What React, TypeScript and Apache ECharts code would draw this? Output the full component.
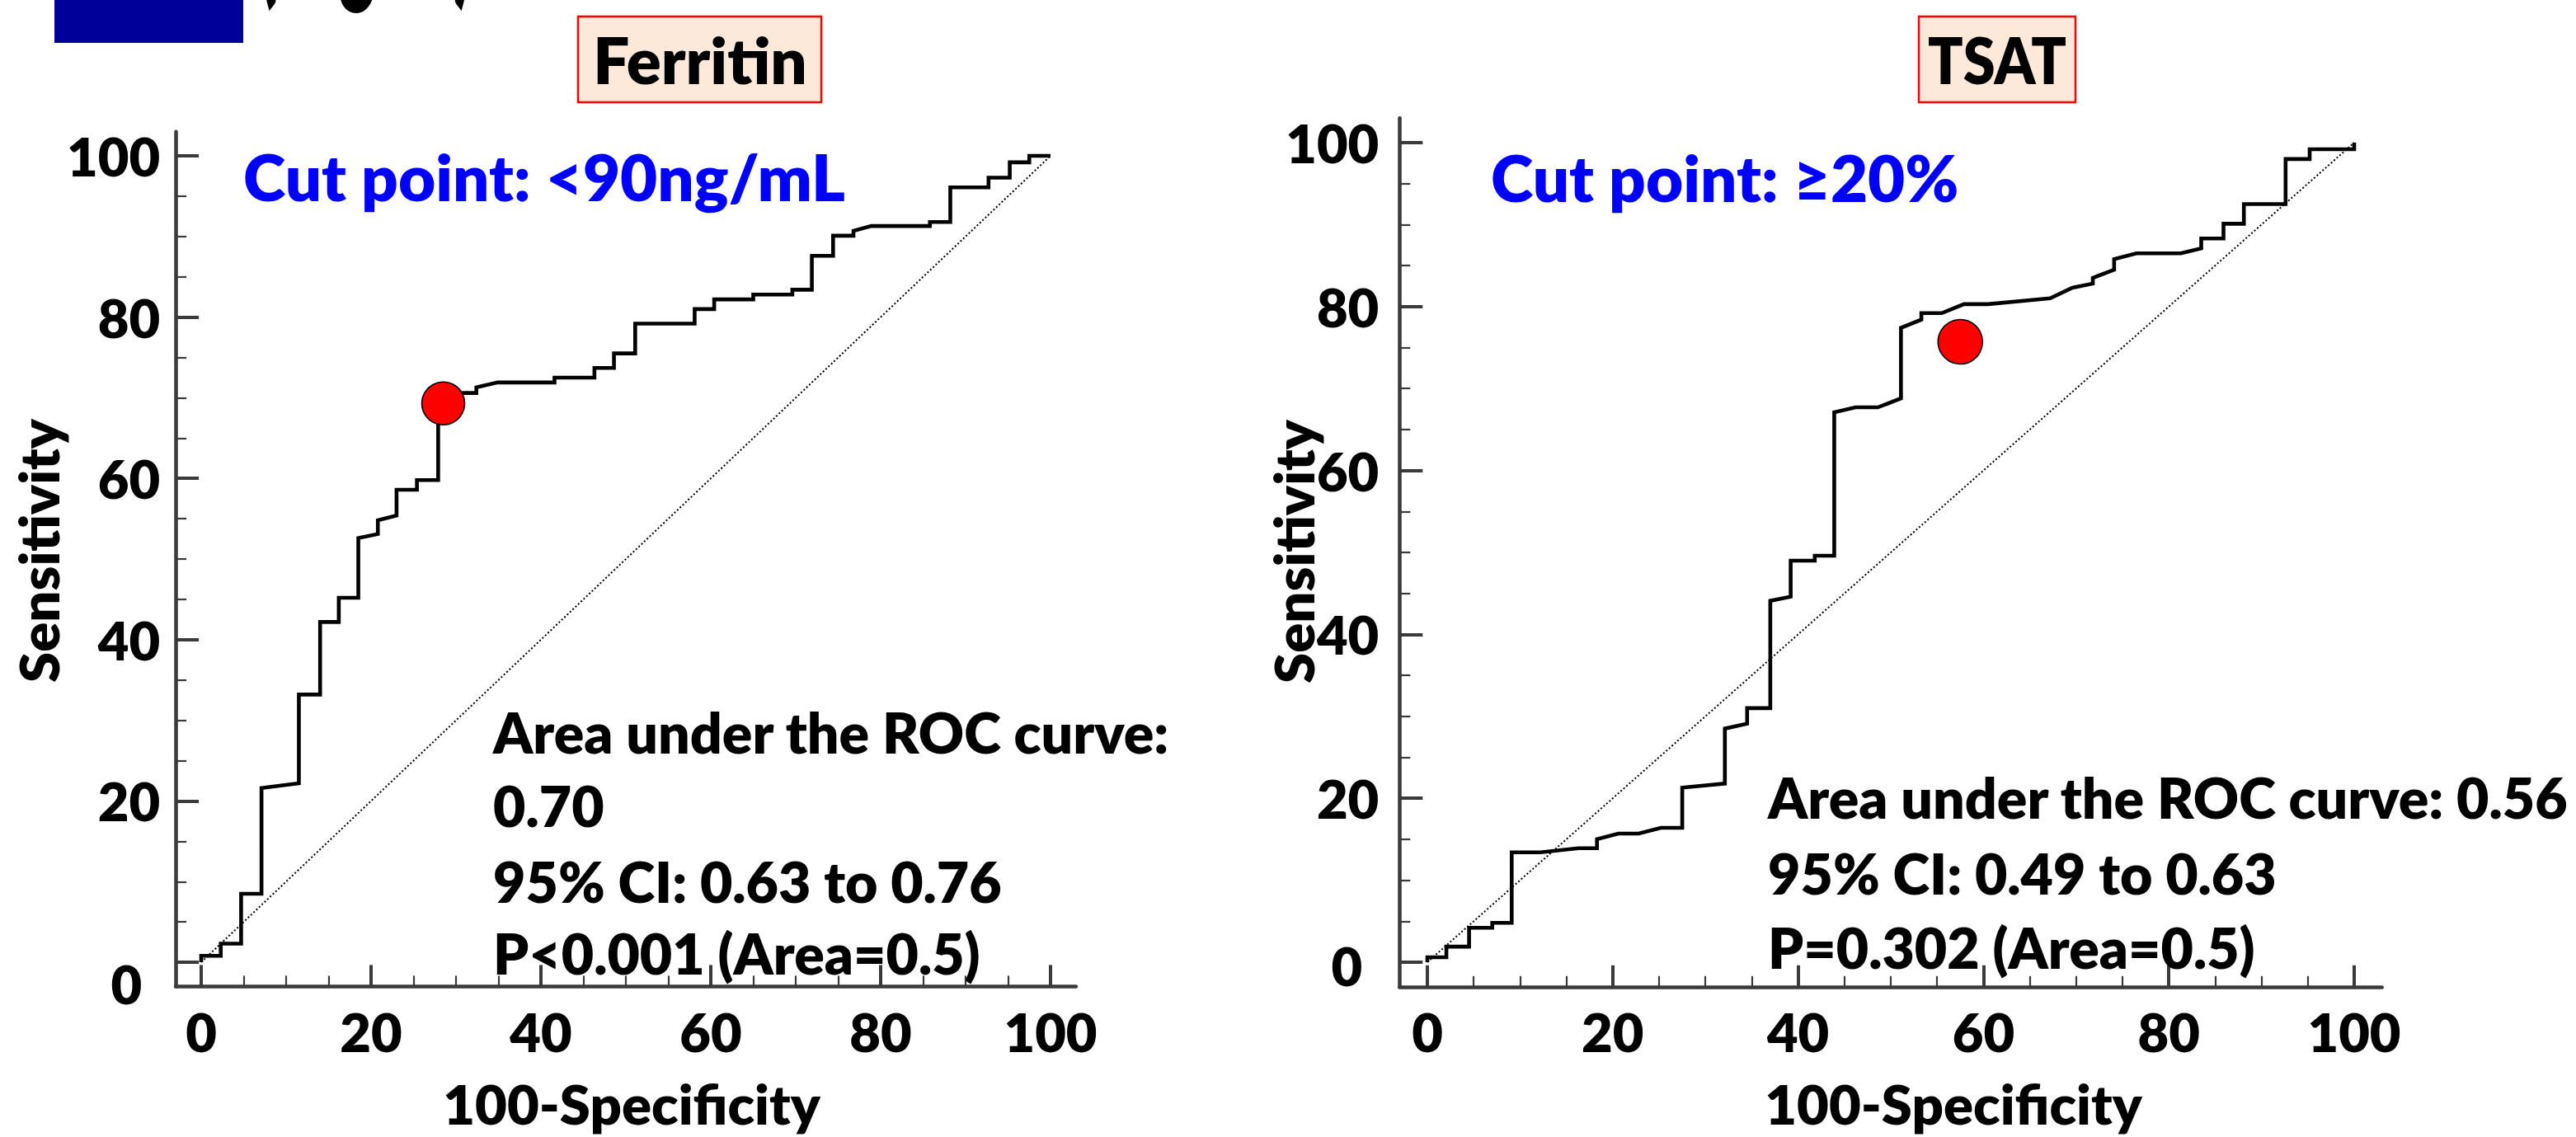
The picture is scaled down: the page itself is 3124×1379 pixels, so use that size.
import React, { useEffect, useRef } from "react";
import * as echarts from "echarts";

// ---------- data ----------
const ferritinCurve: number[][] = [
  [0, 0], [0, 0.8], [2.3, 0.8], [2.3, 2.3], [4.7, 2.3], [4.7, 8.5], [7.1, 8.5], [7.1, 21.6],
  [11.5, 22.2], [11.5, 33.2], [14.0, 33.2], [14.0, 42.2], [16.2, 42.2], [16.2, 45.2],
  [18.5, 45.2], [18.5, 52.6], [20.8, 53.1], [20.8, 54.8], [23.0, 55.4], [23.0, 58.6],
  [25.4, 58.6], [25.4, 59.8], [27.9, 59.8], [27.9, 70.5], [31.1, 70.6], [32.4, 70.6],
  [32.4, 71.3], [34.9, 71.9], [41.6, 71.9], [41.6, 72.5], [46.3, 72.5], [46.3, 73.7],
  [48.6, 73.7], [48.6, 75.5], [51.1, 75.5], [51.1, 79.2], [58.1, 79.2], [58.1, 81.0],
  [60.4, 81.0], [60.4, 82.2], [65.0, 82.2], [65.0, 82.8], [69.6, 82.8], [69.6, 83.4],
  [71.9, 83.4], [71.9, 87.6], [74.4, 87.6], [74.4, 90.1], [76.8, 90.1], [76.8, 90.7],
  [78.9, 91.3], [85.8, 91.3], [85.8, 91.8], [88.2, 91.8], [88.2, 96.1], [92.7, 96.1],
  [92.7, 97.3], [95.2, 97.3], [95.2, 99.2], [97.5, 99.2], [97.5, 100], [100, 100],
];

const tsatCurve: number[][] = [
  [0, 0], [0, 0.6], [2.05, 0.6], [2.05, 1.9], [4.5, 1.9], [4.5, 4.2], [7.0, 4.2], [7.0, 4.8],
  [9.1, 4.8], [9.1, 13.4], [12.2, 13.4], [16.3, 13.9], [18.3, 13.9], [18.3, 15.0],
  [20.6, 15.7], [22.8, 15.7], [25.2, 16.4], [27.5, 16.4], [27.5, 21.3], [32.1, 21.8],
  [32.1, 28.5], [34.5, 29.1], [34.5, 31.0], [37.0, 31.0], [37.0, 44.1], [39.2, 44.6],
  [39.2, 49.0], [41.8, 49.0], [41.8, 49.6], [43.9, 49.6], [43.9, 67.1], [46.2, 67.7],
  [48.6, 67.7], [51.1, 68.8], [51.1, 77.4], [53.3, 78.4], [53.3, 79.2], [55.5, 79.2],
  [57.9, 80.3], [60.5, 80.3], [67.2, 81.0], [69.6, 82.3], [71.8, 82.8], [71.8, 83.5],
  [74.1, 84.5], [74.1, 85.8], [76.5, 86.5], [81.3, 86.5], [83.5, 87.1], [83.5, 88.3],
  [85.9, 88.3], [85.9, 90.1], [88.1, 90.1], [88.1, 92.5], [92.6, 92.5], [92.6, 98.0],
  [95.2, 98.0], [95.2, 99.2], [100, 99.2], [100, 100],
];

const chanceLine: number[][] = [[0, 0], [100, 100]];
const ferritinCutPoint: number[][] = [[28.5, 69.3]];
const tsatCutPoint: number[][] = [[57.5, 75.7]];

const majorTicks = [0, 20, 40, 60, 80, 100];
const minorTicks = [5, 10, 15, 25, 30, 35, 45, 50, 55, 65, 70, 75, 85, 90, 95];
const axisMin = -3;
const axisMax = 103;

const headerFragment = "(Fig. 2)";
const ferritinTitle = "Ferritin";
const tsatTitle = "TSAT";
const ferritinCut = "Cut point: <90ng/mL";
const tsatCut = "Cut point: \u226520%";
const ferritinStats = ["Area under the ROC curve:", "0.70", "95% CI: 0.63 to 0.76", "P<0.001 (Area=0.5)"];
const tsatStats = ["Area under the ROC curve: 0.56", "95% CI: 0.49 to 0.63", "P=0.302 (Area=0.5)"];
const xName = "100-Specificity";
const yName = "Sensitivity";

// ---------- styles ----------
const FONT = "Lato";
const WEIGHT = 800;
const AXIS_COLOR = "#3a3a3a";
const TICK_FONT = 65;
const NAME_FONT = 67;
const STAT_FONT = 68;

function mainX(gridIndex: number) {
  return {
    type: "value", gridIndex, min: axisMin, max: axisMax, position: "bottom",
    axisLine: { show: true, onZero: false, lineStyle: { color: AXIS_COLOR, width: 4.5 } },
    axisTick: { show: true, inside: true, length: 26, customValues: majorTicks, lineStyle: { color: AXIS_COLOR, width: 4 } },
    axisLabel: {
      show: true, customValues: majorTicks, margin: 22, color: "#000",
      fontFamily: FONT, fontWeight: WEIGHT, fontSize: TICK_FONT,
    },
    splitLine: { show: false },
  };
}
function minorX(gridIndex: number) {
  return {
    type: "value", gridIndex, min: axisMin, max: axisMax, position: "bottom",
    axisLine: { show: false, onZero: false },
    axisTick: { show: true, inside: true, length: 13, customValues: minorTicks, lineStyle: { color: AXIS_COLOR, width: 2.2 } },
    axisLabel: { show: false },
    splitLine: { show: false },
  };
}
function mainY(gridIndex: number, margin: number, zeroPad: number[]) {
  return {
    type: "value", gridIndex, min: axisMin, max: axisMax, position: "left",
    axisLine: { show: true, onZero: false, lineStyle: { color: AXIS_COLOR, width: 4.5 } },
    axisTick: { show: true, inside: true, length: 28, customValues: majorTicks, lineStyle: { color: AXIS_COLOR, width: 4 } },
    axisLabel: {
      show: true, customValues: majorTicks, margin, color: "#000",
      fontFamily: FONT, fontWeight: WEIGHT, fontSize: TICK_FONT,
      formatter: (v: number) => (v === 0 ? "{z|0}" : String(v)),
      rich: {
        z: { padding: zeroPad, color: "#000", fontFamily: FONT, fontWeight: WEIGHT, fontSize: TICK_FONT },
      },
    },
    splitLine: { show: false },
  };
}
function minorY(gridIndex: number) {
  return {
    type: "value", gridIndex, min: axisMin, max: axisMax, position: "left",
    axisLine: { show: false, onZero: false },
    axisTick: { show: true, inside: true, length: 13, customValues: minorTicks, lineStyle: { color: AXIS_COLOR, width: 2.2 } },
    axisLabel: { show: false },
    splitLine: { show: false },
  };
}

function curveSeries(data: number[][], axis: number) {
  return {
    type: "line", data, xAxisIndex: axis, yAxisIndex: axis, symbol: "none", z: 3,
    lineStyle: { color: "#000", width: 4.6, join: "miter" }, silent: true,
  };
}
function chanceSeries(axis: number) {
  return {
    type: "line", data: chanceLine, xAxisIndex: axis, yAxisIndex: axis, symbol: "none", z: 2,
    lineStyle: { color: "#000", width: 2, type: [2, 2.6] }, silent: true,
  };
}
function cutSeries(data: number[][], axis: number, size: number) {
  return {
    type: "scatter", data, xAxisIndex: axis, yAxisIndex: axis, symbol: "circle", symbolSize: size, z: 5,
    itemStyle: { color: "#FF0000", borderColor: "#000", borderWidth: 1.6, opacity: 1 }, silent: true,
  };
}

function txt(text: string, x: number, y: number, size: number, color: string, align: string, extra: any = {}) {
  return {
    type: "text", x, y, z: 50, ...extra,
    style: {
      text, fill: color, fontFamily: FONT, fontWeight: WEIGHT, fontSize: size,
      align, verticalAlign: "middle",
    },
  };
}

export default function App() {
  const ref = useRef<HTMLDivElement>(null);
  useEffect(() => {
    if (!ref.current) return;
    const chart = echarts.init(ref.current, null, { renderer: "svg" });
    const graphic: any[] = [
      { type: "rect", shape: { x: 66, y: 0, width: 229, height: 52 }, style: { fill: "#000099" }, z: 40 },
      txt(headerFragment, 312, -97, 100, "#000", "left", { scaleX: 0.88, scaleY: 2.0 }),
      { type: "rect", shape: { x: 701, y: 20, width: 295, height: 104 }, style: { fill: "#FDE9D9", stroke: "#FF0000", lineWidth: 2.5 }, z: 40 },
      txt(ferritinTitle, 849, 72, 78, "#000", "center"),
      { type: "rect", shape: { x: 2327, y: 20, width: 190, height: 104 }, style: { fill: "#FDE9D9", stroke: "#FF0000", lineWidth: 2.5 }, z: 40 },
      txt(tsatTitle, 2422, 72, 78, "#000", "center", { scaleX: 0.9 }),
      txt(ferritinCut, 295, 214, 78, "#0000FF", "left"),
      txt(tsatCut, 1808, 215, 78, "#0000FF", "left"),
      txt(ferritinStats[0], 598, 887, STAT_FONT, "#000", "left"),
      txt(ferritinStats[1], 598, 976, STAT_FONT, "#000", "left"),
      txt(ferritinStats[2], 598, 1068, STAT_FONT, "#000", "left"),
      txt(ferritinStats[3], 598, 1155, STAT_FONT, "#000", "left"),
      txt(tsatStats[0], 2144, 966, STAT_FONT, "#000", "left"),
      txt(tsatStats[1], 2144, 1058, STAT_FONT, "#000", "left"),
      txt(tsatStats[2], 2144, 1148, STAT_FONT, "#000", "left"),
      txt(xName, 766, 1338, NAME_FONT, "#000", "center"),
      txt(xName, 2369, 1338, NAME_FONT, "#000", "center"),
      txt(yName, 46, 668, NAME_FONT, "#000", "center", { rotation: Math.PI / 2 }),
      txt(yName, 1568, 669, NAME_FONT, "#000", "center", { rotation: Math.PI / 2 }),
    ];
    chart.setOption({
      animation: false,
      backgroundColor: "#ffffff",
      grid: [
        { left: 213.1, top: 159.7, width: 1091.8, height: 1036.7, outerBoundsMode: "none", containLabel: false },
        { left: 1697.3, top: 143.2, width: 1191.4, height: 1053.6, outerBoundsMode: "none", containLabel: false },
      ],
      xAxis: [mainX(0), minorX(0), mainX(1), minorX(1)],
      yAxis: [mainY(0, 19, [52, 22, 0, 0]), minorY(0), mainY(1, 25, [8, 20, 0, 0]), minorY(1)],
      series: [
        chanceSeries(0),
        curveSeries(ferritinCurve, 0),
        cutSeries(ferritinCutPoint, 0, 52),
        chanceSeries(2),
        curveSeries(tsatCurve, 2),
        cutSeries(tsatCutPoint, 2, 54),
      ],
      graphic,
    });
    return () => chart.dispose();
  }, []);
  return <div ref={ref} style={{ position: "absolute", left: 0, top: 0, width: 3124, height: 1379 }} />;
}
